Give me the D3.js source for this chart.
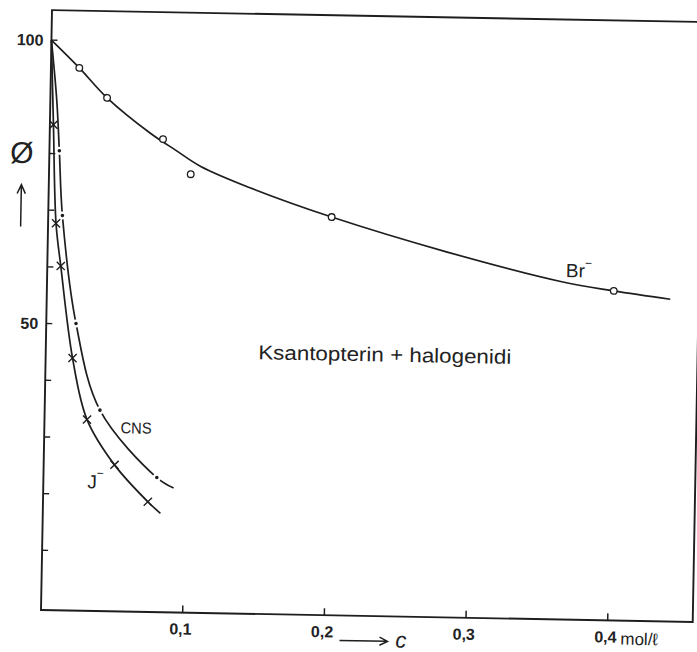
<!DOCTYPE html>
<html>
<head>
<meta charset="utf-8">
<script src="https://cdn.jsdelivr.net/npm/d3@7"></script>
<style>
  body { margin: 0; background: #fff; }
  svg { display: block; }
  text { font-family: "Liberation Sans", "DejaVu Sans", sans-serif; fill: #222; }
</style>
</head>
<body>
<svg id="chart" width="697" height="652"></svg>
<script>
// c in mol/l, quantum yield Ø in %
const brPoints = [[0.02, 95.2], [0.04, 90.0], [0.08, 82.9], [0.10, 76.8], [0.20, 69.7], [0.40, 57.6]];
const brCurve = [[0, 100], [0.02, 95.2], [0.04, 90.0], [0.071, 83.9], [0.089, 81.0], [0.107, 78.2],
  [0.142, 74.6], [0.2, 69.7], [0.282, 63.9], [0.364, 59.0], [0.40, 57.6], [0.44, 56.3]];
const cnsPoints = [[0.007, 80.5], [0.010, 69.1], [0.021, 50.1], [0.039, 34.9], [0.080, 23.2]];
const cnsCurve = [[0, 100], [0.0045, 89.5], [0.007, 80.5], [0.010, 69.1], [0.021, 50.1],
  [0.039, 34.9], [0.080, 23.2], [0.092, 21.4]];
const iPoints = [[0.0025, 85.1], [0.0056, 67.7], [0.0095, 60.2], [0.019, 44.0], [0.030, 33.2],
  [0.050, 25.3], [0.074, 18.9]];
const iCurve = [[0, 100], [0.0025, 85.1], [0.0056, 67.7], [0.0095, 60.2], [0.019, 44.0],
  [0.030, 33.2], [0.050, 25.3], [0.074, 18.9], [0.083, 16.9]];
const xTicks = [0.1, 0.2, 0.3, 0.4];
const xTickLabels = ['0,1', '0,2', '0,3', '0,4'];
const yTicks = [10, 20, 30, 40, 50, 60, 70, 80, 100];
const yLabelled = [50, 100];

const svg = d3.select('#chart');
const ink = '#1e1e1e';

// scanned page sits slightly rotated
const ox = 41;
const oy = 610;
const g = svg.append('g').attr('transform', `rotate(1.05, ${ox}, ${oy})`);

const x = d3.scaleLinear().domain([0, 0.46]).range([ox, ox + 0.46 * 1417]);
const y = d3.scaleLinear().domain([0, 100]).range([oy - 3, oy - 570]);
const frameTop = oy - 600;
const frameRight = x(0.46);

// frame
g.append('path')
  .attr('d', `M${ox},${frameTop}H${frameRight}V${oy}H${ox}Z`)
  .attr('fill', 'none')
  .attr('stroke', ink)
  .attr('stroke-width', 1.9);

// ticks pointing inwards
g.selectAll('.xtick')
  .data(xTicks)
  .enter()
  .append('line')
  .attr('x1', d => x(d))
  .attr('x2', d => x(d))
  .attr('y1', oy)
  .attr('y2', oy - 7)
  .attr('stroke', ink)
  .attr('stroke-width', 1.5);

g.selectAll('.xlabel')
  .data(xTicks)
  .enter()
  .append('text')
  .attr('x', d => x(d) - 2)
  .attr('y', oy + 22)
  .attr('text-anchor', 'middle')
  .attr('font-size', 16)
  .attr('font-weight', 'bold')
  .text((d, i) => xTickLabels[i]);

g.append('text')
  .attr('x', x(0.4) + 13)
  .attr('y', oy + 24)
  .attr('font-size', 17)
  .text('mol/ℓ');

g.selectAll('.ytick')
  .data(yTicks)
  .enter()
  .append('line')
  .attr('x1', ox)
  .attr('x2', ox + 6)
  .attr('y1', d => y(d))
  .attr('y2', d => y(d))
  .attr('stroke', ink)
  .attr('stroke-width', 1.4);

g.selectAll('.ylabel')
  .data(yLabelled)
  .enter()
  .append('text')
  .attr('x', ox - 8)
  .attr('y', d => y(d))
  .attr('dy', '0.35em')
  .attr('text-anchor', 'end')
  .attr('font-size', 16)
  .attr('font-weight', 'bold')
  .text(d => d);

// axis titles
g.append('text')
  .attr('x', 13.6)
  .attr('y', 153)
  .attr('dy', '0.35em')
  .attr('text-anchor', 'middle')
  .attr('font-size', 30)
  .text('Ø');

g.append('path')
  .attr('d', 'M13.6,227V186M9.5,194L13.6,185L17.7,194')
  .attr('fill', 'none')
  .attr('stroke', ink)
  .attr('stroke-width', 1.5);

g.append('path')
  .attr('d', `M340,${oy + 25}H388M380,${oy + 21}L388,${oy + 25}L380,${oy + 29}`)
  .attr('fill', 'none')
  .attr('stroke', ink)
  .attr('stroke-width', 1.5);

g.append('text')
  .attr('x', 396)
  .attr('y', oy + 31)
  .attr('font-size', 22)
  .attr('font-style', 'italic')
  .text('c');

// curves
const line = d3.line()
  .x(d => x(d[0]))
  .y(d => y(d[1]))
  .curve(d3.curveCatmullRom.alpha(0.5));

[brCurve, cnsCurve, iCurve].forEach((c) => {
  g.append('path')
    .attr('d', line(c))
    .attr('fill', 'none')
    .attr('stroke', ink)
    .attr('stroke-width', 1.7);
});

// markers
g.selectAll('.br')
  .data(brPoints)
  .enter()
  .append('circle')
  .attr('cx', d => x(d[0]))
  .attr('cy', d => y(d[1]))
  .attr('r', 3.3)
  .attr('fill', '#fff')
  .attr('stroke', ink)
  .attr('stroke-width', 1.3);

g.selectAll('.cnsGap')
  .data(cnsPoints)
  .enter()
  .append('circle')
  .attr('cx', d => x(d[0]))
  .attr('cy', d => y(d[1]))
  .attr('r', 4)
  .attr('fill', '#fff');

g.selectAll('.cns')
  .data(cnsPoints)
  .enter()
  .append('circle')
  .attr('cx', d => x(d[0]))
  .attr('cy', d => y(d[1]))
  .attr('r', 1.8)
  .attr('fill', ink);

const cross = d3.symbol().type(d3.symbolX).size(45);
g.selectAll('.iMark')
  .data(iPoints)
  .enter()
  .append('path')
  .attr('d', cross)
  .attr('transform', d => `translate(${x(d[0])},${y(d[1])})`)
  .attr('fill', 'none')
  .attr('stroke', ink)
  .attr('stroke-width', 1.4);

// curve labels
const br = g.append('text')
  .attr('x', x(0.366))
  .attr('y', y(59.9))
  .attr('font-size', 19);
br.append('tspan').text('Br');
br.append('tspan').attr('font-size', 12).attr('dy', -10).text('−');

g.append('text')
  .attr('x', x(0.0538))
  .attr('y', y(30.9))
  .attr('font-size', 16)
  .attr('textLength', 31)
  .attr('lengthAdjust', 'spacingAndGlyphs')
  .text('CNS');

const jl = g.append('text')
  .attr('x', x(0.031))
  .attr('y', y(21.1))
  .attr('font-size', 19);
jl.append('tspan').text('J');
jl.append('tspan').attr('font-size', 12).attr('dy', -11).text('−');

g.append('text')
  .attr('x', x(0.150))
  .attr('y', y(44.4))
  .attr('font-size', 20)
  .attr('textLength', 253)
  .attr('lengthAdjust', 'spacingAndGlyphs')
  .text('Ksantopterin  +  halogenidi');
</script>
</body>
</html>
